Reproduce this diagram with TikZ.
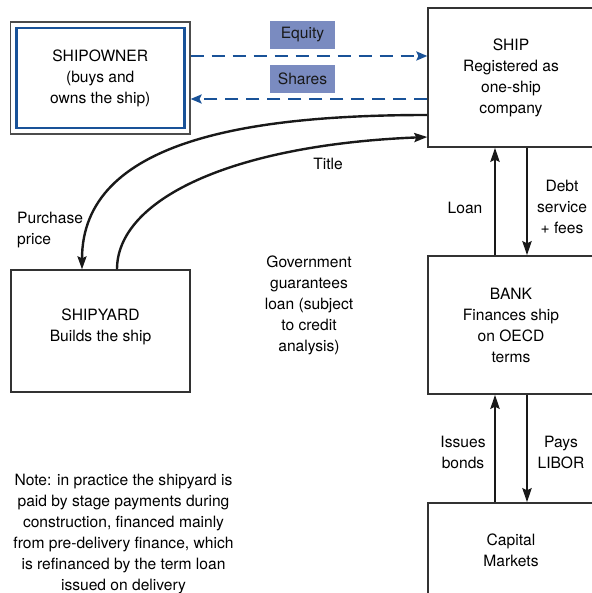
\documentclass[tikz,border=0pt]{standalone}
\usepackage{fontspec}
\setmainfont{TeX Gyre Heros}
\usetikzlibrary{arrows.meta,calc}
\definecolor{owblue}{RGB}{25,82,152}
\definecolor{lblfill}{RGB}{122,139,192}
\definecolor{boxgray}{RGB}{50,50,50}
\begin{document}
\begin{tikzpicture}[x=1pt,y=-1pt,
  every node/.style={font=\fontsize{15.6}{21}\selectfont, align=center, inner sep=0pt},
  box/.style={draw=boxgray, line width=1.3pt},
  lbl/.style={fill=lblfill, text=black!90, minimum width=65pt, minimum height=28pt},
  dasharrow/.style={draw=owblue, line width=2.8pt, dash pattern=on 13pt off 8pt, -{Stealth[length=11pt,width=9pt,inset=2pt]}},
  solidarrow/.style={draw=black!90, line width=2.8pt, -{Stealth[length=14pt,width=9pt,inset=2pt]}},
  curvearrow/.style={draw=black!90, line width=2.4pt, -{Stealth[length=13pt,width=9pt,inset=2pt]}}]
\useasboundingbox (0,0) rectangle (591,593);
% boxes
\node[draw=black!70, line width=1.2pt, minimum width=179.5pt, minimum height=112pt] (ownerframe) at (100.25,78) {};
\node[draw=owblue, line width=2.8pt, minimum width=168pt, minimum height=100pt] (owner) at (100.25,78) {SHIPOWNER\\(buys and\\owns the ship)};
\node[box, minimum width=166pt, minimum height=139pt] (ship) at (511,77.5) {SHIP\\Registered as\\one-ship\\company};
\node[box, minimum width=179pt, minimum height=122pt] (yard) at (100.5,331) {};
\node (yardtext) at (100.5,327) {SHIPYARD\\Builds the ship};
\node[box, minimum width=166pt, minimum height=138pt] (bank) at (511,325) {BANK\\Finances ship\\on OECD\\terms};
\node[box, minimum width=166pt, minimum height=94pt] (cap) at (511,550) {Capital\\Markets};
% labels
\node[lbl] (equity) at (302.5,35) {Equity};
\node[lbl] (shares) at (302.5,79) {Shares};
\node (title) at (328,164) {Title};
\node[anchor=west, align=left] (purchase) at (17,230.5) {Purchase\\price};
\node (gov) at (309,305) {Government\\guarantees\\loan (subject\\to credit\\analysis)};
\node (loan) at (465,208) {Loan};
\node (debt) at (562,207) {Debt\\service\\+ fees};
\node (issues) at (463,452.5) {Issues\\bonds};
\node (pays) at (561,452.5) {Pays\\LIBOR};
\node (note) at (123.5,534) {Note: in practice the shipyard is\\paid by stage payments during\\construction, financed mainly\\from pre-delivery finance, which\\is refinanced by the term loan\\issued on delivery};
% dashed arrows
\coordinate (e1) at ([yshift=22pt]ownerframe.east);
\coordinate (s1) at ([yshift=-21pt]ownerframe.east);
\draw[dasharrow] (e1) -- (e1 -| ship.west);
\draw[dasharrow] (s1 -| ship.west) -- (s1);
% curves
\coordinate (pp0) at ([yshift=-37.5pt]ship.west);
\coordinate (pp3) at ([xshift=-18.5pt]yard.north);
\draw[curvearrow] (pp0) .. controls (250,115) and (82,140) .. (pp3);
\coordinate (t0) at ([xshift=16.5pt]yard.north);
\coordinate (t3) at ([yshift=-59.5pt]ship.west);
\draw[curvearrow] (t0) .. controls (117,200) and (230,145) .. (t3);
% vertical arrows
\draw[solidarrow] ([xshift=-16pt]bank.north) -- ([xshift=-16pt]ship.south);
\draw[solidarrow] ([xshift=16pt]ship.south) -- ([xshift=16pt]bank.north);
\draw[solidarrow] ([xshift=-16pt]cap.north) -- ([xshift=-16pt]bank.south);
\draw[solidarrow] ([xshift=16pt]bank.south) -- ([xshift=16pt]cap.north);
\end{tikzpicture}
\end{document}
